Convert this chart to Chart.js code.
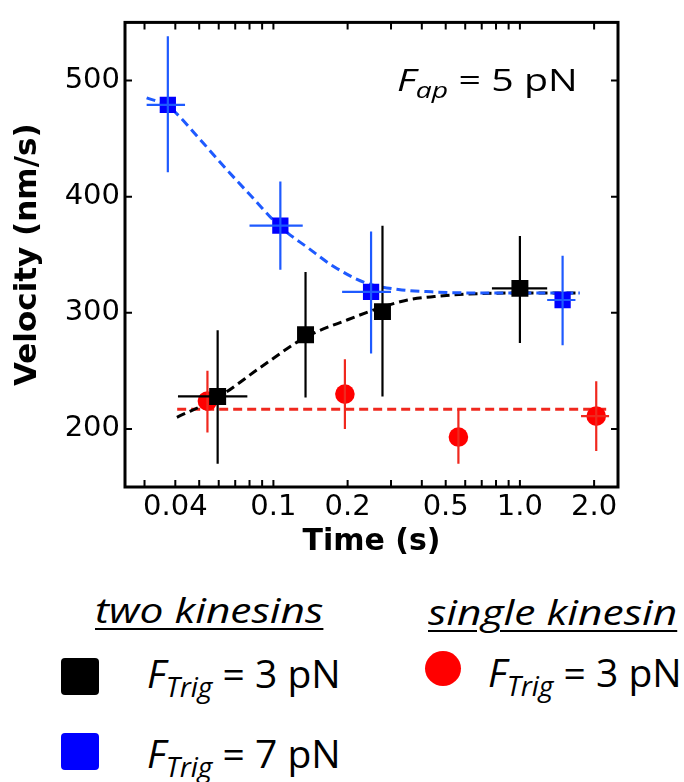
<!DOCTYPE html>
<html>
<head>
<meta charset="utf-8">
<script src="https://cdn.jsdelivr.net/npm/chart.js@4.4.0/dist/chart.umd.min.js"></script>
<style>
  body { margin: 0; background: #fff; overflow: hidden; }
  #wrap { position: relative; width: 684px; height: 782px; overflow: hidden; }
  #plot { position: absolute; left: 0; top: 0; width: 684px; height: 570px; }
  .lbl { position: absolute; font-family: "Open Sans", sans-serif; line-height: 1; white-space: nowrap; transform-origin: 0 0; color: #000; }
  .lbl i { font-style: italic; }
  .lbl sub { font-size: 0.72em; vertical-align: -0.32em; line-height: 1; }
  .head { font-style: italic; text-decoration: underline; text-decoration-thickness: 2px; text-underline-offset: 5px; }
  .sw { position: absolute; width: 38px; height: 37px; border-radius: 4px; }
</style>
</head>
<body>
<div id="wrap">
  <div id="plot"><canvas id="velocityChart"></canvas></div>

  <div class="lbl" style="left:397px; top:64px; font-size:31px; transform:scaleX(1.27)"><i>F</i><sub><i>ap</i></sub> = 5 pN</div>

  <div class="lbl head" style="left:95px; top:593px; font-size:34px; transform:scaleX(1.25)">two kinesins</div>
  <div class="lbl head" style="left:428px; top:595px; font-size:34px; transform:scaleX(1.25)">single kinesin</div>

  <div class="sw" style="left:61px; top:658px; background:#000"></div>
  <div class="lbl" style="left:147px; top:653px; font-size:39px;"><i>F</i><sub><i>Trig</i></sub> = 3 pN</div>

  <div class="sw" style="left:61px; top:733px; background:#0000ff"></div>
  <div class="lbl" style="left:147px; top:733px; font-size:39px;"><i>F</i><sub><i>Trig</i></sub> = 7 pN</div>

  <div class="sw" style="left:425px; top:651px; width:36px; height:35px; border-radius:50%; background:#ff0000"></div>
  <div class="lbl" style="left:488px; top:652px; font-size:39px;"><i>F</i><sub><i>Trig</i></sub> = 3 pN</div>
</div>

<script>
// two kinesins, F_Trig = 7 pN (blue)
const blueT = [0.0373, 0.1067, 0.249, 1.49];
const blueV = [479, 375, 318, 311];
const blueVLo = [421, 337, 265, 272];
const blueVHi = [538, 413, 370, 349];
const blueTLo = [0.0306, 0.080, 0.190, 1.29];
const blueTHi = [0.0438, 0.1315, 0.300, 1.68];

// two kinesins, F_Trig = 3 pN (black)
const blackT = [0.0594, 0.135, 0.277, 1.0];
const blackV = [228, 281, 301, 321];
const blackVLo = [170, 227, 228, 274];
const blackVHi = [285, 335, 375, 366];
const blackTLo = [0.0410, 0.135, 0.262, 0.77];
const blackTHi = [0.0784, 0.135, 0.296, 1.29];

// single kinesin, F_Trig = 3 pN (red)
const redT = [0.054, 0.195, 0.563, 2.04];
const redV = [224, 230, 193, 211];
const redVLo = [197, 200, 170, 181];
const redVHi = [250, 260, 217, 241];
const redTLo = [0.054, 0.195, 0.563, 1.77];
const redTHi = [0.054, 0.195, 0.563, 2.30];

// dashed fit curves
const blueFitT = [0.0306, 0.0373, 0.05, 0.0617, 0.08, 0.1067, 0.14, 0.1723, 0.2346, 0.3214, 0.4385, 0.7, 1.0, 1.75];
const blueFitV = [485, 478, 450, 428, 402, 374, 355, 341, 326, 320, 318, 317, 317, 317];
const blackFitT = [0.0406, 0.0594, 0.09, 0.135, 0.2, 0.277, 0.35, 0.45, 0.6, 1.0, 1.75];
const blackFitV = [210, 227, 254, 279, 294, 305, 311, 314, 316, 317, 317];
const redFitT = [0.0407, 2.3];
const redFitV = [217, 217];

// axes
const xTickVals = [0.03, 0.04, 0.05, 0.06, 0.07, 0.08, 0.09, 0.1, 0.2, 0.3, 0.4, 0.5, 0.6, 0.7, 0.8, 0.9, 1, 2];
const xTickLabels = { 0.04: '0.04', 0.1: '0.1', 0.2: '0.2', 0.5: '0.5', 1: '1.0', 2: '2.0' };
const yTickVals = [200, 300, 400, 500];

const BLUE = '#0000ff', BLUE_LINE = '#1e5aff';
const RED = '#ff0000', RED_LINE = '#f0281e';

const pts = (xs, ys) => xs.map((x, i) => ({ x: x, y: ys[i] }));

const errGroups = [
  { t: redT, v: redV, vLo: redVLo, vHi: redVHi, tLo: redTLo, tHi: redTHi, color: RED_LINE },
  { t: blackT, v: blackV, vLo: blackVLo, vHi: blackVHi, tLo: blackTLo, tHi: blackTHi, color: '#000' },
  { t: blueT, v: blueV, vLo: blueVLo, vHi: blueVHi, tLo: blueTLo, tHi: blueTHi, color: BLUE_LINE },
];

const errorBars = {
  id: 'errorBars',
  afterDatasetsDraw(chart) {
    const { ctx, scales: { x, y } } = chart;
    ctx.save();
    ctx.lineWidth = 2.2;
    errGroups.forEach(g => {
      ctx.strokeStyle = g.color;
      ctx.beginPath();
      g.t.forEach((t, i) => {
        const px = x.getPixelForValue(t), py = y.getPixelForValue(g.v[i]);
        ctx.moveTo(px, y.getPixelForValue(g.vLo[i]));
        ctx.lineTo(px, y.getPixelForValue(g.vHi[i]));
        if (g.tHi[i] > g.tLo[i]) {
          ctx.moveTo(x.getPixelForValue(g.tLo[i]), py);
          ctx.lineTo(x.getPixelForValue(g.tHi[i]), py);
        }
      });
      ctx.stroke();
    });
    ctx.restore();
  }
};

// box round the plot with inward ticks on all four sides
const frame = {
  id: 'frame',
  afterDraw(chart) {
    const { ctx, chartArea: a, scales: { x, y } } = chart;
    ctx.save();
    ctx.strokeStyle = '#000';
    ctx.lineWidth = 2;
    ctx.beginPath();
    xTickVals.forEach(v => {
      const px = x.getPixelForValue(v);
      ctx.moveTo(px, a.bottom); ctx.lineTo(px, a.bottom - 7);
      ctx.moveTo(px, a.top); ctx.lineTo(px, a.top + 7);
    });
    yTickVals.forEach(v => {
      const py = y.getPixelForValue(v);
      ctx.moveTo(a.left, py); ctx.lineTo(a.left + 7, py);
      ctx.moveTo(a.right, py); ctx.lineTo(a.right - 7, py);
    });
    ctx.stroke();
    ctx.lineWidth = 3;
    ctx.strokeRect(a.left, a.top, a.width, a.height);
    ctx.restore();
  }
};

const fitLine = (data, color) => ({
  type: 'line',
  data: data,
  borderColor: color,
  borderWidth: 3,
  borderDash: [9, 5],
  pointRadius: 0,
  fill: false,
  cubicInterpolationMode: 'monotone',
  order: 5,
});

new Chart(document.getElementById('velocityChart'), {
  type: 'scatter',
  data: {
    datasets: [
      { label: 'blue', data: pts(blueT, blueV), pointStyle: 'rect', pointRadius: 11.5, backgroundColor: BLUE, borderColor: BLUE, borderWidth: 0, order: 1 },
      { label: 'black', data: pts(blackT, blackV), pointStyle: 'rect', pointRadius: 12, backgroundColor: '#000', borderColor: '#000', borderWidth: 0, order: 2 },
      { label: 'red', data: pts(redT, redV), pointStyle: 'circle', pointRadius: 9.8, backgroundColor: RED, borderColor: RED, borderWidth: 0, order: 3 },
      fitLine(pts(blueFitT, blueFitV), BLUE_LINE),
      fitLine(pts(blackFitT, blackFitV), '#000'),
      fitLine(pts(redFitT, redFitV), RED_LINE),
    ],
  },
  options: {
    responsive: true,
    maintainAspectRatio: false,
    animation: false,
    layout: { padding: { left: 0, right: 66, top: 14, bottom: 0 } },
    plugins: {
      legend: { display: false },
      tooltip: { enabled: false },
    },
    scales: {
      x: {
        type: 'logarithmic',
        min: 0.025,
        max: 2.5,
        grid: { display: false, drawTicks: false },
        border: { display: false },
        afterBuildTicks: (scale) => { scale.ticks = xTickVals.map(v => ({ value: v })); },
        afterFit: (scale) => { scale.height = 83; },
        ticks: {
          autoSkip: false,
          maxRotation: 0,
          padding: 3,
          color: '#000',
          font: { family: 'DejaVu Sans', size: 29 },
          callback: (value) => xTickLabels[value] || '',
        },
        title: {
          display: true,
          text: 'Time (s)',
          color: '#000',
          font: { family: 'DejaVu Sans', size: 30, weight: 'bold' },
          padding: { top: 0, bottom: 10 },
        },
      },
      y: {
        min: 150,
        max: 550,
        grid: { display: false, drawTicks: false },
        border: { display: false },
        afterBuildTicks: (scale) => { scale.ticks = yTickVals.map(v => ({ value: v })); },
        afterFit: (scale) => { scale.width = 125; },
        ticks: {
          padding: 5,
          color: '#000',
          font: { family: 'DejaVu Sans', size: 29 },
        },
        title: {
          display: true,
          text: 'Velocity (nm/s)',
          color: '#000',
          font: { family: 'DejaVu Sans', size: 31, weight: 'bold' },
          padding: { top: 9, bottom: 0 },
        },
      },
    },
  },
  plugins: [errorBars, frame],
});
</script>
</body>
</html>
